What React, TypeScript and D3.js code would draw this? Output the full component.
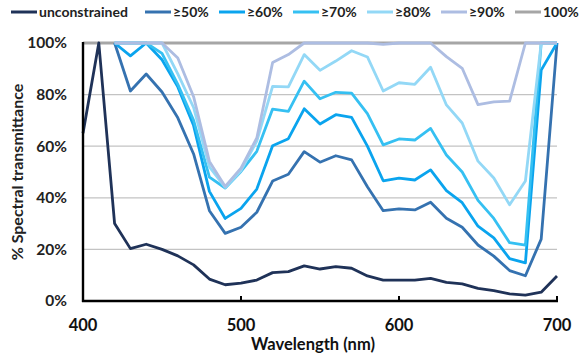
import React from 'react';
import * as d3 from 'd3';

// wavelengths (nm), one reading every 10 nm
const wavelengths = [400, 410, 420, 430, 440, 450, 460, 470, 480, 490, 500, 510, 520, 530, 540, 550, 560, 570, 580, 590, 600, 610, 620, 630, 640, 650, 660, 670, 680, 690, 700];

const unconstrained = [65, 100, 30, 20.3, 22, 20, 17.5, 14, 8.5, 6.3, 6.9, 8.1, 11, 11.4, 13.6, 12.4, 13.3, 12.7, 9.7, 8.1, 8.1, 8.1, 8.8, 7.2, 6.6, 4.9, 4, 2.8, 2.3, 3.4, 9.7];
const ge50 = [null, null, 100, 81.4, 88, 81, 71, 57, 35, 26.2, 28.6, 34.4, 46.5, 49.1, 57.9, 53.8, 56.3, 54.7, 44.3, 35, 35.7, 35.3, 38.3, 32.1, 28.6, 21.7, 17.4, 11.8, 9.8, 24, 100];
const ge60 = [null, null, 100, 95, 100, 93.5, 83, 68, 42.5, 32, 35.9, 43.4, 60.2, 62.9, 74.5, 68.6, 72.2, 71.2, 60, 46.6, 47.6, 46.9, 50.8, 42.8, 38.1, 29, 24.5, 16.4, 14.8, 89.5, 100];
const ge70 = [null, null, 100, 100, 100, 96, 84, 70, 48, 43.8, 50.2, 58, 74.4, 73.5, 85.2, 78.4, 80.9, 80.6, 72.6, 60.5, 62.8, 62.4, 66.9, 56.6, 50, 39, 32, 22.6, 21.7, 100, 100];
const ge80 = [null, null, 100, 100, 100, 100, 88, 75, 52, 44, 50.5, 62, 83.2, 83, 95.5, 89.4, 93, 97, 94.6, 81.4, 84.6, 84, 90.6, 76, 69, 54.2, 47.7, 37.3, 46.5, 100, 100];
const ge90 = [null, null, 100, 100, 100, 100, 94.2, 79.2, 54.1, 44.4, 51.5, 63.2, 92.4, 95.5, 100, 100, 100, 100, 100, 99.5, 100, 100, 100, 94.7, 90.2, 76.1, 77.2, 77.5, 100, 100, 100];
const all100 = [100, 100, 100, 100, 100, 100, 100, 100, 100, 100, 100, 100, 100, 100, 100, 100, 100, 100, 100, 100, 100, 100, 100, 100, 100, 100, 100, 100, 100, 100, 100];

const seriesNames = ['unconstrained', '≥50%', '≥60%', '≥70%', '≥80%', '≥90%', '100%'];
const seriesValues = [unconstrained, ge50, ge60, ge70, ge80, ge90, all100];
const seriesColors = ['#1f3258', '#3572b0', '#0aa4ee', '#35c0f2', '#93d8f6', '#adbde2', '#a6a6a6'];

const xTicks = [400, 500, 600, 700];
const yTicks = [0, 20, 40, 60, 80, 100];

const W = 579;
const H = 358;
const FONT = 'Lato, "Open Sans", sans-serif';

export default function App() {
  const x = d3.scaleLinear().domain([400, 700]).range([83, 557]);
  const y = d3.scaleLinear().domain([0, 100]).range([301, 43]);

  const line = d3.line<number | null>()
    .defined(d => d != null)
    .x((_, i) => x(wavelengths[i]))
    .y(d => y(d as number));

  // grey 100% line goes underneath, the rest in legend order
  const order = [6, 0, 1, 2, 3, 4, 5];
  const legendX = [11, 145, 219, 293, 367, 441, 515];

  return (
    <div style={{ position: 'absolute', left: 0, top: 0 }}>
      <svg width={W} height={H} style={{ display: 'block', background: '#fff' }}>
        {/* gridlines */}
        {yTicks.filter(t => t > 0 && t < 100).map(t => (
          <line key={t} x1={x(400)} x2={x(700)} y1={y(t)} y2={y(t)} stroke="#c3c3c3" strokeWidth={1.3} />
        ))}

        {order.map(i => (
          <path key={seriesNames[i]} d={line(seriesValues[i]) || ''} fill="none"
            stroke={seriesColors[i]} strokeWidth={i === 6 ? 3 : 2.8} strokeLinejoin="round" />
        ))}

        {/* axes */}
        <line x1={x(400)} x2={x(400)} y1={y(100) - 1} y2={y(0) + 1} stroke="#000" strokeWidth={2.4} />
        <line x1={x(400) - 1} x2={x(700) + 1} y1={y(0)} y2={y(0)} stroke="#000" strokeWidth={2.4} />
        {xTicks.slice(1).map(t => (
          <line key={t} x1={x(t)} x2={x(t)} y1={y(0)} y2={y(0) - 5} stroke="#000" strokeWidth={2} />
        ))}

        {yTicks.map(t => (
          <text key={t} x={67} y={y(t)} dy="0.35em" textAnchor="end" fontFamily={FONT}
            fontWeight="bold" fontSize={15.5} fill="#222">{t}%</text>
        ))}
        {xTicks.map(t => (
          <text key={t} x={x(t)} y={325} dy="0.35em" textAnchor="middle" fontFamily={FONT}
            fontWeight="bold" fontSize={16.5} fill="#111">{t}</text>
        ))}
        <text x={313} y={344} dy="0.35em" textAnchor="middle" fontFamily={FONT}
          fontWeight="bold" fontSize={16.5} fill="#111">Wavelength (nm)</text>
        <text transform="translate(17,172) rotate(-90)" dy="0.35em" textAnchor="middle" fontFamily={FONT}
          fontWeight="bold" fontSize={16} fill="#222">% Spectral transmittance</text>

        {/* legend */}
        {seriesNames.map((name, i) => (
          <g key={name} transform={`translate(${legendX[i]},12)`}>
            <line x1={0} x2={26} y1={0} y2={0} stroke={seriesColors[i]} strokeWidth={3} />
            <text x={28} y={0} dy="0.35em" fontFamily={FONT} fontWeight="bold" fontSize={14} fill="#222">{name}</text>
          </g>
        ))}
      </svg>
    </div>
  );
}
